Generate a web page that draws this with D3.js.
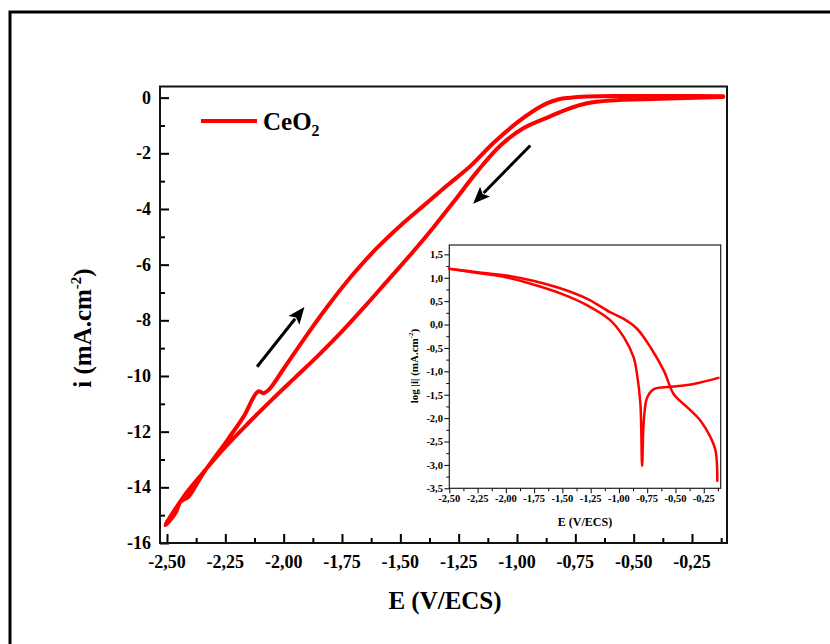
<!DOCTYPE html>
<html><head><meta charset="utf-8">
<script src="https://cdn.jsdelivr.net/npm/d3@7"></script>
<style>body{margin:0;background:#fff}svg{display:block}text{font-family:"Liberation Serif","Times New Roman",serif;font-weight:bold}</style>
</head><body>
<svg id="c" width="830" height="644"></svg>
<script>
// ---- Main CV data (E in V/ECS, i in mA.cm-2) ----
const forwardE = [-0.116,-0.386,-0.60,-0.70,-0.78,-0.86,-0.973,-1.071,-1.17,-1.26,-1.36,-1.45,-1.55,-1.65,-1.75,-1.85,-1.95,-2.05,-2.15,-2.25,-2.35,-2.43,-2.507];
const forwardI = [0.02,-0.04,-0.10,-0.20,-0.40,-0.68,-1.10,-1.72,-2.65,-3.62,-4.68,-5.58,-6.53,-7.48,-8.40,-9.25,-10.05,-10.85,-11.68,-12.55,-13.52,-14.35,-15.36];
const returnE = [-2.507,-2.464,-2.443,-2.426,-2.409,-2.344,-2.242,-2.173,-2.109,-2.087,-2.06,-2.00,-1.90,-1.80,-1.70,-1.60,-1.50,-1.40,-1.30,-1.20,-1.10,-1.00,-0.93,-0.87,-0.82,-0.78,-0.70,-0.557,-0.300,-0.116];
const returnI = [-15.36,-14.93,-14.53,-14.43,-14.35,-13.49,-12.31,-11.48,-10.55,-10.62,-10.46,-9.74,-8.52,-7.37,-6.32,-5.40,-4.60,-3.88,-3.16,-2.46,-1.62,-0.90,-0.48,-0.20,-0.06,-0.01,0.04,0.06,0.06,0.05];
// ---- Inset Tafel data (E, log|i|) ----
const tafelAE = [-2.5,-2.25,-2.0,-1.75,-1.5,-1.28,-1.075,-0.957,-0.84,-0.72,-0.6,-0.515,-0.395,-0.277,-0.19,-0.145,-0.13];
const tafelAL = [1.19,1.12,1.05,0.93,0.76,0.55,0.26,0.12,-0.09,-0.49,-1.0,-1.49,-1.77,-2.06,-2.41,-2.70,-3.34];
const tafelBE = [-2.5,-2.25,-2.0,-1.75,-1.5,-1.28,-1.075,-0.957,-0.87,-0.84,-0.81,-0.795,-0.78,-0.75,-0.69,-0.54,-0.34,-0.12];
const tafelBL = [1.19,1.10,1.01,0.85,0.65,0.41,0.09,-0.27,-0.70,-1.06,-1.70,-3.02,-2.06,-1.56,-1.38,-1.33,-1.27,-1.14];
// ---- Ticks ----
const mainXTicks = [-2.5,-2.25,-2.0,-1.75,-1.5,-1.25,-1.0,-0.75,-0.5,-0.25];
const mainYTicks = [0,-2,-4,-6,-8,-10,-12,-14,-16];
const insetXTicks = [-2.5,-2.25,-2.0,-1.75,-1.5,-1.25,-1.0,-0.75,-0.5,-0.25];
const insetYTicks = [1.5,1.0,0.5,0.0,-0.5,-1.0,-1.5,-2.0,-2.5,-3.0,-3.5];
// ---- Arrows (data coords) [E0,v0,E1,v1] tail -> tip ----
const mainArrows = [[-0.943,-1.72,-1.188,-3.81],[-2.114,-9.67,-1.911,-7.52]];
const insetArrows = [[-1.755,0.66,-1.436,0.37],[-0.195,-2.27,-0.342,-1.68]];
const legendLabel = "CeO";

const svg = d3.select("#c");
const fmt = (d,n) => d.toFixed(n).replace(".",",");

// outer frame
svg.append("rect").attr("x",10).attr("y",12).attr("width",840).attr("height",700)
  .attr("fill","none").attr("stroke","#000").attr("stroke-width",3);

// ---- main plot ----
const L=160,R=727,T=86.5,B=543;
const x = d3.scaleLinear().domain([-2.53,-0.1]).range([L,R]);
const y = d3.scaleLinear().domain([-16,0.4]).range([B,T]);

// axes with inward ticks
const gx = svg.append("g").attr("transform",`translate(0,${B})`)
  .call(d3.axisTop(x).tickValues(mainXTicks).tickSize(9).tickFormat(""));
const gxm = svg.append("g").attr("transform",`translate(0,${B})`)
  .call(d3.axisTop(x).tickValues(mainXTicks.map(v=>v+0.125)).tickSize(5).tickFormat(""));
const gy = svg.append("g").attr("transform",`translate(${L},0)`)
  .call(d3.axisRight(y).tickValues(mainYTicks).tickSize(9).tickFormat(""));
const gym = svg.append("g").attr("transform",`translate(${L},0)`)
  .call(d3.axisRight(y).tickValues(d3.range(-15,0,2)).tickSize(5).tickFormat(""));
[gx,gxm,gy,gym].forEach(g=>{g.select(".domain").remove();g.selectAll("line").attr("stroke","#000").attr("stroke-width",2);});
svg.append("rect").attr("x",L).attr("y",T).attr("width",R-L).attr("height",B-T)
  .attr("fill","none").attr("stroke","#111").attr("stroke-width",2);

svg.append("g").selectAll("text").data(mainXTicks).join("text")
  .attr("x",d=>x(d)).attr("y",568).attr("text-anchor","middle").attr("font-size",18).text(d=>fmt(d,2));
svg.append("g").selectAll("text").data(mainYTicks).join("text")
  .attr("x",151).attr("y",d=>y(d)+6).attr("text-anchor","end").attr("font-size",18).text(d=>String(d));

// axis titles
svg.append("text").attr("x",445).attr("y",609).attr("text-anchor","middle").attr("font-size",25).text("E (V/ECS)");
const yl = svg.append("text").attr("transform","translate(91,328) rotate(-90)").attr("text-anchor","middle").attr("font-size",25);
yl.append("tspan").text("i (mA.cm");
yl.append("tspan").attr("font-size",15).attr("dy",-10).text("-2");
yl.append("tspan").attr("dy",10).text(")");

// curve
const loop = forwardE.map((e,k)=>[e,forwardI[k]]).concat(returnE.map((e,k)=>[e,returnI[k]]).slice(1));
svg.append("path").datum(loop)
  .attr("d",d3.line().x(d=>x(d[0])).y(d=>y(d[1])).curve(d3.curveCatmullRom.alpha(0.5)))
  .attr("fill","none").attr("stroke","#ff0000").attr("stroke-width",4).attr("stroke-linejoin","round").attr("stroke-linecap","round");

// legend
svg.append("line").attr("x1",201).attr("x2",257).attr("y1",121).attr("y2",121).attr("stroke","#ff0000").attr("stroke-width",4);
const lt = svg.append("text").attr("x",263).attr("y",130).attr("font-size",25);
lt.append("tspan").text(legendLabel);
lt.append("tspan").attr("font-size",16).attr("dy",6).text("2");

// arrows
function arrow(g, sx, sy, a, w, hl, hw){
  const x0=sx(a[0]),y0=sy(a[1]),x1=sx(a[2]),y1=sy(a[3]);
  const ang=Math.atan2(y1-y0,x1-x0);
  const bx=x1-hl*Math.cos(ang), by=y1-hl*Math.sin(ang);
  g.append("line").attr("x1",x0).attr("y1",y0).attr("x2",bx+2*Math.cos(ang)).attr("y2",by+2*Math.sin(ang))
    .attr("stroke","#000").attr("stroke-width",w);
  const px=-Math.sin(ang),py=Math.cos(ang);
  g.append("path").attr("d",`M${x1},${y1}L${bx+px*hw/2},${by+py*hw/2}L${bx+(x1-bx)*0.2},${by+(y1-by)*0.2}L${bx-px*hw/2},${by-py*hw/2}Z`).attr("fill","#000");
}
const ag = svg.append("g");
mainArrows.forEach(a=>arrow(ag,x,y,a,3,17,14));

// ---- inset ----
const iL=449.3,iR=720.7,iT=245,iB=488.3;
const ix = d3.scaleLinear().domain([-2.5,-0.1]).range([iL,iR]);
const iy = d3.scaleLinear().domain([-3.5,1.7]).range([iB,iT]);
svg.append("rect").attr("x",iL).attr("y",iT).attr("width",iR-iL).attr("height",iB-iT).attr("fill","#fff");
const ixa = svg.append("g").attr("transform",`translate(0,${iB})`)
  .call(d3.axisBottom(ix).tickValues(insetXTicks).tickSize(5).tickFormat(""));
const ixm = svg.append("g").attr("transform",`translate(0,${iB})`)
  .call(d3.axisBottom(ix).tickValues(insetXTicks.map(v=>v+0.125)).tickSize(3).tickFormat(""));
const iya = svg.append("g").attr("transform",`translate(${iL},0)`)
  .call(d3.axisLeft(iy).tickValues(insetYTicks).tickSize(5).tickFormat(""));
const iym = svg.append("g").attr("transform",`translate(${iL},0)`)
  .call(d3.axisLeft(iy).tickValues(insetYTicks.slice(1).map(v=>v+0.25)).tickSize(3).tickFormat(""));
[ixa,ixm,iya,iym].forEach(g=>{g.select(".domain").remove();g.selectAll("line").attr("stroke","#000").attr("stroke-width",1);});
svg.append("rect").attr("x",iL).attr("y",iT).attr("width",iR-iL).attr("height",iB-iT)
  .attr("fill","none").attr("stroke","#222").attr("stroke-width",1.2);
svg.append("g").selectAll("text").data(insetXTicks).join("text")
  .attr("x",d=>ix(d)).attr("y",502).attr("text-anchor","middle").attr("font-size",10.5).text(d=>fmt(d,2));
svg.append("g").selectAll("text").data(insetYTicks).join("text")
  .attr("x",443).attr("y",d=>iy(d)+3.8).attr("text-anchor","end").attr("font-size",10.5).text(d=>fmt(d,1));
svg.append("text").attr("x",585).attr("y",526).attr("text-anchor","middle").attr("font-size",12).text("E (V/ECS)");
const iyl = svg.append("text").attr("transform","translate(418,366) rotate(-90)").attr("text-anchor","middle").attr("font-size",11);
iyl.append("tspan").text("log |i| (mA.cm");
iyl.append("tspan").attr("font-size",7).attr("dy",-5).text("-2");
iyl.append("tspan").attr("dy",5).text(")");

const tl = d3.line().x(d=>ix(d[0])).y(d=>iy(d[1])).curve(d3.curveCatmullRom.alpha(0.5));
[[tafelAE,tafelAL],[tafelBE,tafelBL]].forEach(([es,ls])=>{
  svg.append("path").datum(es.map((e,k)=>[e,ls[k]])).attr("d",tl)
    .attr("fill","none").attr("stroke","#ff0000").attr("stroke-width",2.5).attr("stroke-linejoin","round").attr("stroke-linecap","round");
});
insetArrows.forEach(a=>arrow(ag,ix,iy,a,2,9,7));
</script>
</body></html>
